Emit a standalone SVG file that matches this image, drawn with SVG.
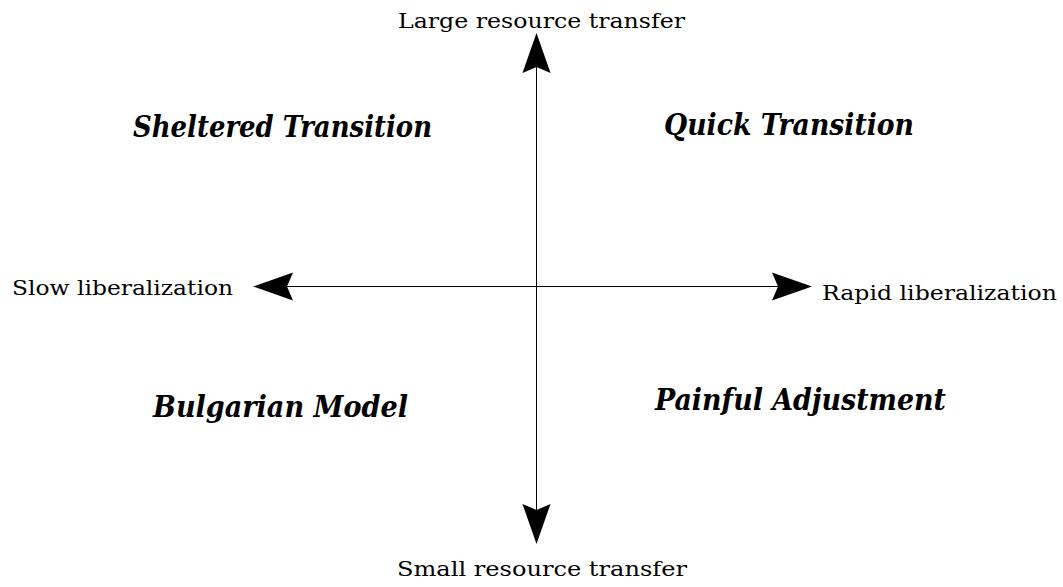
<svg xmlns="http://www.w3.org/2000/svg" width="1063" height="587" viewBox="0 0 1063 587">
<style>
.ax{font-family:"DejaVu Serif","Liberation Serif",serif;font-size:20px;fill:#000}
.q{font-family:"DejaVu Serif","Liberation Serif",serif;font-size:29px;font-weight:bold;font-style:italic;fill:#000}
.ln{stroke:#000;stroke-width:1;fill:none}
.hd{fill:#000;stroke:none}
</style>
<rect width="1063" height="587" fill="#fff"/>
<g id="connectors">
<line class="ln" x1="536.5" y1="40" x2="536.5" y2="538"/>
<line class="ln" x1="260" y1="286.5" x2="806" y2="286.5"/>
<polygon class="hd" points="536.5,33 550.5,73 536.5,67 522.5,73"/>
<polygon class="hd" points="536.5,544 550.5,504 536.5,510 522.5,504"/>
<polygon class="hd" points="253,286.5 293,272.5 287,286.5 293,300.5"/>
<polygon class="hd" points="812,286.5 772,272.5 778,286.5 772,300.5"/>
</g>
<g id="label-top"><text class="ax" x="398" y="28" textLength="287" lengthAdjust="spacingAndGlyphs">Large resource transfer</text></g>
<g id="label-bottom"><text class="ax" x="397" y="576" textLength="290" lengthAdjust="spacingAndGlyphs">Small resource transfer</text></g>
<g id="label-left"><text class="ax" x="12" y="295" textLength="221" lengthAdjust="spacingAndGlyphs">Slow liberalization</text></g>
<g id="label-right"><text class="ax" x="822" y="300" textLength="235" lengthAdjust="spacingAndGlyphs">Rapid liberalization</text></g>
<g id="q-sheltered"><text class="q" x="133" y="137" textLength="299" lengthAdjust="spacingAndGlyphs">Sheltered Transition</text></g>
<g id="q-quick"><text class="q" x="664" y="135" textLength="250" lengthAdjust="spacingAndGlyphs">Quick Transition</text></g>
<g id="q-bulgarian"><text class="q" x="153" y="417" textLength="255" lengthAdjust="spacingAndGlyphs">Bulgarian Model</text></g>
<g id="q-painful"><text class="q" x="655" y="410" textLength="291" lengthAdjust="spacingAndGlyphs">Painful Adjustment</text></g>
</svg>
